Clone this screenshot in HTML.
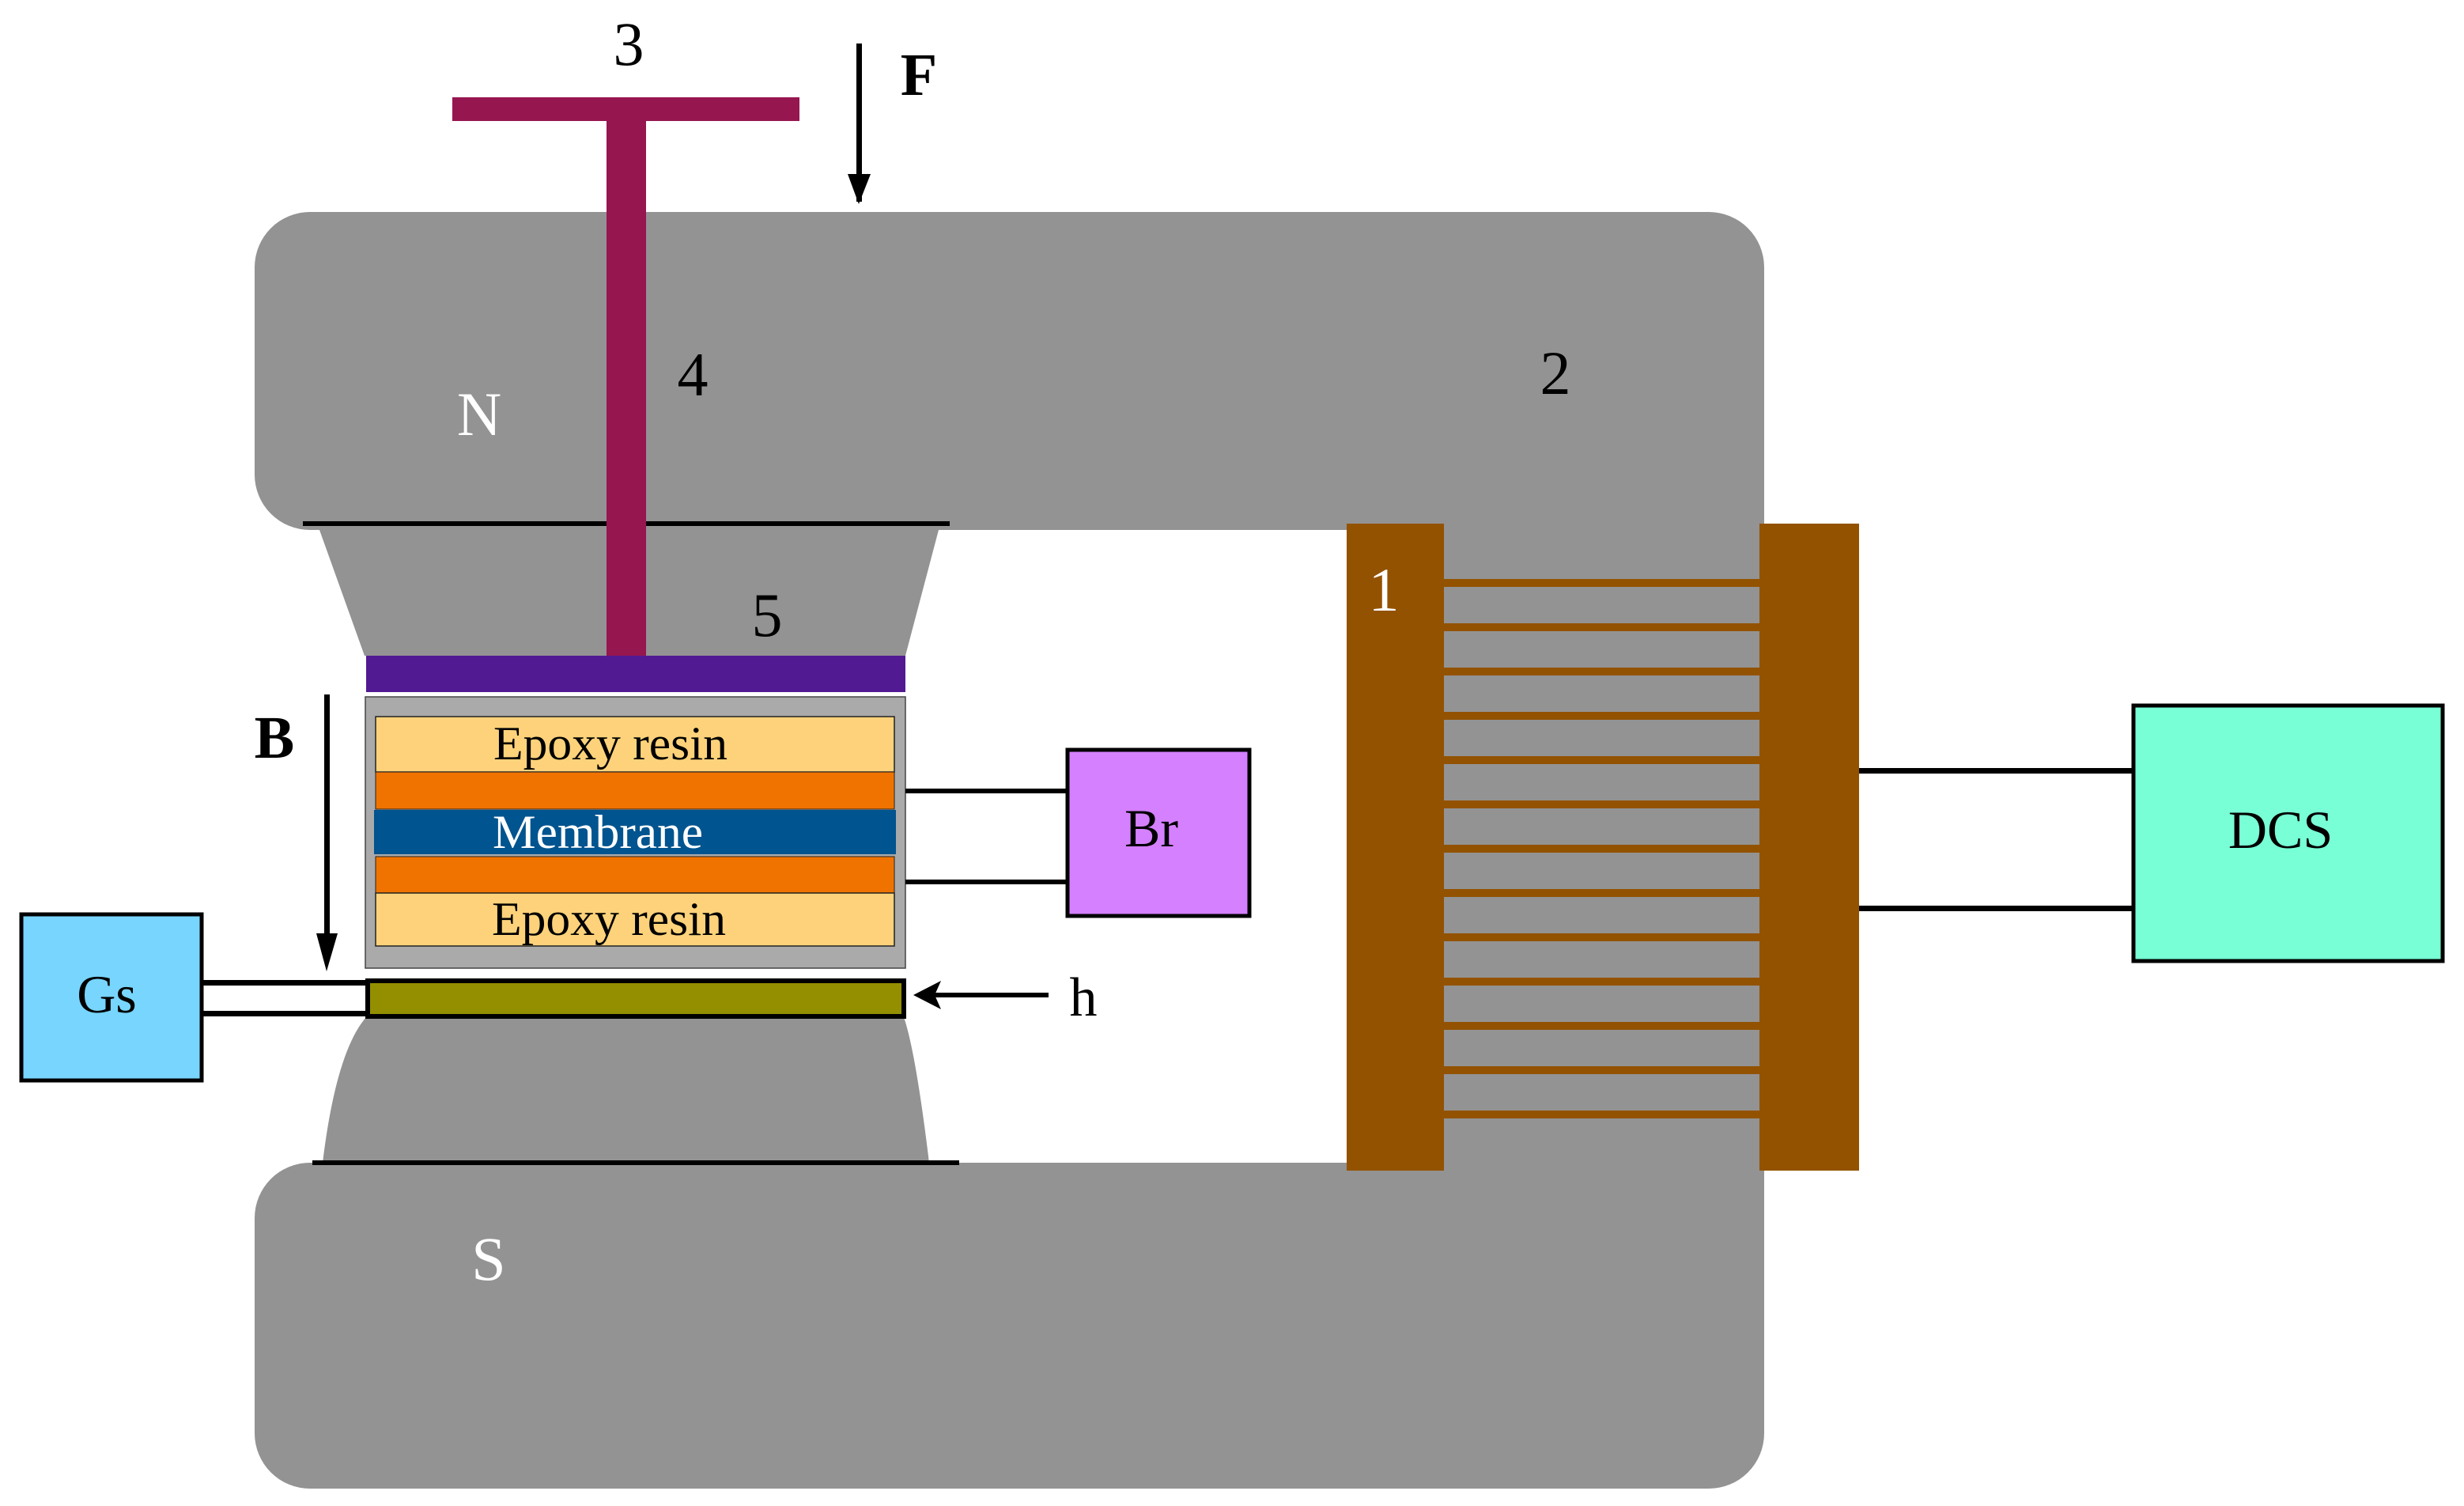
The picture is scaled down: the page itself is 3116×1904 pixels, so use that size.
<!DOCTYPE html>
<html><head><meta charset="utf-8"><style>html,body{margin:0;padding:0;background:#fff}svg{display:block}</style></head>
<body>
<svg width="3116" height="1904" viewBox="0 0 3116 1904" xmlns="http://www.w3.org/2000/svg" font-family="Liberation Serif, serif">
<rect x="322" y="268" width="1909" height="402" rx="70" fill="#939393"/>
<rect x="322" y="1470" width="1909" height="412" rx="70" fill="#939393"/>
<rect x="1826" y="600" width="405" height="950" fill="#939393"/>
<polygon points="404,670 1187,670 1145,829 461,829" fill="#939393"/>
<path d="M463,1286 L1143,1286 Q1158,1330 1175,1470 L408,1470 Q425,1330 463,1286 Z" fill="#939393"/>
<rect x="383" y="659" width="818" height="6" fill="#000"/>
<rect x="395" y="1467" width="818" height="6" fill="#000"/>
<rect x="572" y="123" width="439" height="30" fill="#961650"/>
<rect x="767" y="150" width="50" height="680" fill="#961650"/>
<rect x="463" y="829" width="682" height="46" fill="#521a92"/>
<rect x="462" y="881" width="683" height="343" fill="#aaaaaa" stroke="#444" stroke-width="1.5"/>
<rect x="475" y="906" width="656" height="70" fill="#fdd27a" stroke="#222" stroke-width="1.5"/>
<rect x="475" y="976" width="656" height="47" fill="#f07300" stroke="#222" stroke-width="1"/>
<rect x="473" y="1024" width="660" height="56" fill="#00548f"/>
<rect x="475" y="1083" width="656" height="46" fill="#f07300" stroke="#222" stroke-width="1"/>
<rect x="475" y="1129" width="656" height="67" fill="#fdd27a" stroke="#222" stroke-width="1.5"/>
<text x="772" y="960" font-size="60" text-anchor="middle" textLength="296" lengthAdjust="spacingAndGlyphs">Epoxy resin</text>
<text x="756" y="1072" font-size="60" text-anchor="middle" fill="#fff" textLength="266" lengthAdjust="spacingAndGlyphs">Membrane</text>
<text x="770" y="1182" font-size="60" text-anchor="middle" textLength="296" lengthAdjust="spacingAndGlyphs">Epoxy resin</text>
<rect x="465" y="1240" width="678" height="45" fill="#938f00" stroke="#000" stroke-width="6"/>
<rect x="27" y="1156" width="228" height="210" fill="#77d5fe" stroke="#000" stroke-width="5"/>
<text x="135" y="1280" font-size="68" text-anchor="middle">Gs</text>
<rect x="255" y="1239" width="208" height="7" fill="#000"/>
<rect x="255" y="1278" width="208" height="7" fill="#000"/>
<rect x="410" y="878" width="7" height="310" fill="#000"/>
<polygon points="400,1180 427,1180 413,1228" fill="#000"/>
<text x="347" y="958" font-size="76" font-weight="bold" text-anchor="middle">B</text>
<rect x="1180" y="1255" width="146" height="6" fill="#000"/>
<polygon points="1155,1258 1190,1240 1182,1258 1190,1276" fill="#000"/>
<text x="1370" y="1284" font-size="70" text-anchor="middle">h</text>
<rect x="1145" y="997" width="204" height="6" fill="#000"/>
<rect x="1145" y="1112" width="204" height="6" fill="#000"/>
<rect x="1350" y="948" width="230" height="210" fill="#d580ff" stroke="#000" stroke-width="5"/>
<text x="1456" y="1070" font-size="68" text-anchor="middle">Br</text>
<rect x="1083" y="55" width="7" height="200" fill="#000"/>
<polygon points="1072,220 1101,220 1086,258" fill="#000"/>
<text x="1162" y="120" font-size="76" font-weight="bold" text-anchor="middle">F</text>
<rect x="1703" y="662" width="123" height="818" fill="#935200"/>
<rect x="2225" y="662" width="126" height="818" fill="#935200"/>
<g fill="#935200">
<rect x="1826" y="732" width="399" height="10"/><rect x="1826" y="788" width="399" height="10"/>
<rect x="1826" y="844" width="399" height="10"/><rect x="1826" y="900" width="399" height="10"/>
<rect x="1826" y="956" width="399" height="10"/><rect x="1826" y="1012" width="399" height="10"/>
<rect x="1826" y="1068" width="399" height="10"/><rect x="1826" y="1124" width="399" height="10"/>
<rect x="1826" y="1180" width="399" height="10"/><rect x="1826" y="1236" width="399" height="10"/>
<rect x="1826" y="1292" width="399" height="10"/><rect x="1826" y="1348" width="399" height="10"/>
<rect x="1826" y="1404" width="399" height="10"/>
</g>
<rect x="2351" y="971" width="346" height="7" fill="#000"/>
<rect x="2351" y="1145" width="346" height="7" fill="#000"/>
<rect x="2698" y="892" width="391" height="323" fill="#78ffd6" stroke="#000" stroke-width="5"/>
<text x="2884" y="1072" font-size="68" text-anchor="middle">DCS</text>
<text x="795" y="82" font-size="78" text-anchor="middle">3</text>
<text x="876" y="500" font-size="78" text-anchor="middle">4</text>
<text x="1967" y="498" font-size="78" text-anchor="middle">2</text>
<text x="970" y="804" font-size="78" text-anchor="middle">5</text>
<text x="1750" y="772" font-size="78" text-anchor="middle" fill="#fff">1</text>
<text x="606" y="550" font-size="78" text-anchor="middle" fill="#fff">N</text>
<text x="618" y="1618" font-size="78" text-anchor="middle" fill="#fff">S</text>
</svg>
</body></html>
